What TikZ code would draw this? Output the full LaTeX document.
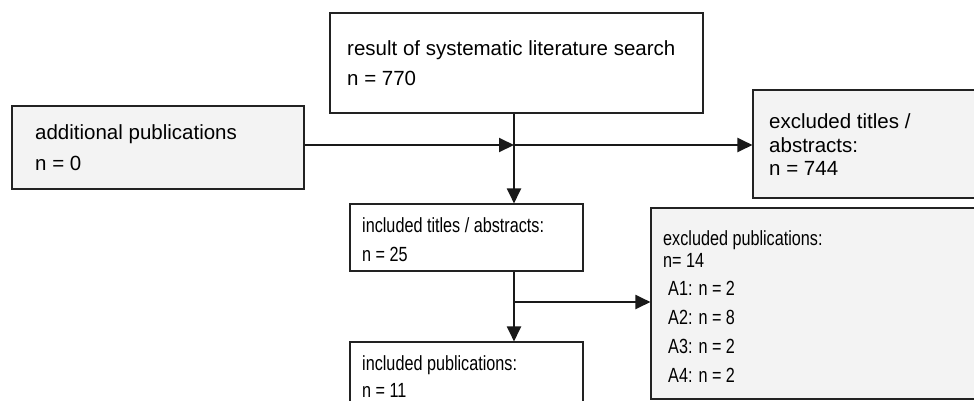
\documentclass[tikz,border=0pt]{standalone}
\usepackage{fontspec}
\setmainfont{Liberation Sans}
\newfontfamily\condfont[FakeStretch=0.79]{Liberation Sans}
\usetikzlibrary{arrows.meta}
\definecolor{boxgray}{HTML}{F3F3F3}
\definecolor{edge}{HTML}{222222}
\tikzset{
  box/.style={draw=edge, line width=1.1pt, inner sep=0pt},
  graybox/.style={box, fill=boxgray},
  txt/.style={anchor=base west, inner sep=0pt, font=\fontsize{20.5}{24}\selectfont},
  ctxt/.style={anchor=base west, inner sep=0pt, font=\fontsize{20.5}{24}\selectfont\condfont},
  flow/.style={line width=2pt, draw=black!90, -{Triangle[length=15pt,width=14pt]}},
  plain/.style={line width=2pt, draw=black!90}
}
\begin{document}
\begin{tikzpicture}[x=1pt,y=-1pt]
\useasboundingbox (0,0) rectangle (974,400);
\begin{scope}
\clip (0,0) rectangle (974,400);
% boxes
\node[graybox, minimum width=292pt, minimum height=83pt] (add) at (158,147.5) {};
\node[box, fill=white, minimum width=373pt, minimum height=100pt] (res) at (516.5,63) {};
\node[graybox, minimum width=230pt, minimum height=108pt] (exT) at (868,144) {};
\node[box, fill=white, minimum width=233pt, minimum height=67pt] (inT) at (466.5,237.5) {};
\node[graybox, minimum width=330pt, minimum height=191pt] (exP) at (816,303.5) {};
\node[box, fill=white, minimum width=233pt, minimum height=80pt] (inP) at (466.5,382) {};
% texts
\node[txt] (t1) at (35,139) {additional publications};
\node[txt] (t2) at (35,170) {n = 0};
\node[txt] (t3) at (347,55) {result of systematic literature search};
\node[txt] (t4) at (347,85) {n = 770};
\node[txt] (t5) at (769,128) {excluded titles /};
\node[txt] (t6) at (769,152) {abstracts:};
\node[txt] (t7) at (769,175) {n = 744};
\node[ctxt] (t8) at (362,232) {included titles / abstracts:};
\node[ctxt] (t9) at (362,261) {n = 25};
\node[ctxt] (t10) at (663,245) {excluded publications:};
\node[ctxt] (t11) at (663,267) {n= 14};
\node[ctxt] (t12) at (668,295) {A1: n = 2};
\node[ctxt] (t13) at (668,324) {A2: n = 8};
\node[ctxt] (t14) at (668,353) {A3: n = 2};
\node[ctxt] (t15) at (668,382) {A4: n = 2};
\node[ctxt] (t16) at (362,370) {included publications:};
\node[ctxt] (t17) at (362,397) {n = 11};
% connectors
\coordinate (j1) at (514,145);
\coordinate (j2) at (514,302);
\draw[flow] (add.east |- j1) -- (j1);
\draw[flow] (j1) -- (exT.west |- j1);
\draw[flow] (res.south -| j1) -- (inT.north -| j1);
\draw[flow] (inT.south -| j1) -- (inP.north -| j1);
\draw[flow] (j2) -- (exP.west |- j2);
\end{scope}
\end{tikzpicture}
\end{document}
